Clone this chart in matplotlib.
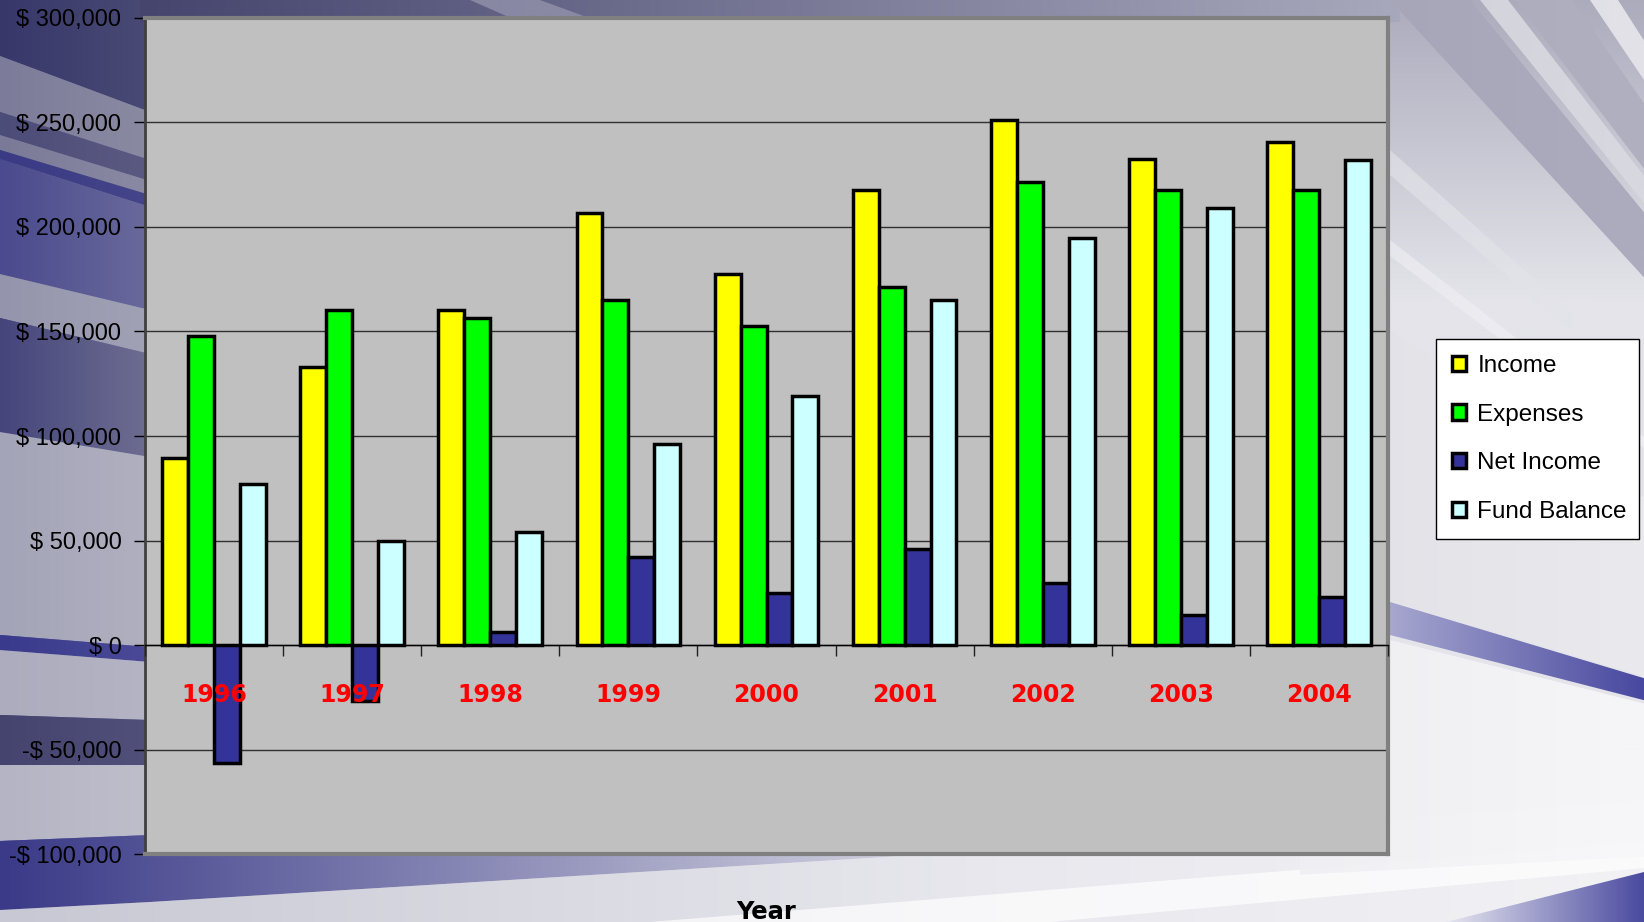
import numpy as np
import matplotlib
matplotlib.use("Agg")
import matplotlib.pyplot as plt
from matplotlib.patches import Polygon
from matplotlib.colors import to_rgb

# ---------------- data ----------------
years = ["1996", "1997", "1998", "1999", "2000", "2001", "2002", "2003", "2004"]
income = [89500, 133000, 160500, 206500, 177500, 217500, 251000, 232500, 240500]
expenses = [148000, 160500, 156500, 165000, 152500, 171500, 221500, 217500, 217500]
net_income = [-56500, -27000, 6000, 42000, 25000, 46000, 29500, 14500, 23000]
fund_balance = [77000, 50000, 54000, 96000, 119000, 165000, 194500, 209000, 232000]
series_names = ["Income", "Expenses", "Net Income", "Fund Balance"]
series_colors = ["#FFFF00", "#00FF00", "#333399", "#CCFFFF"]
y_ticks = [-100000, -50000, 0, 50000, 100000, 150000, 200000, 250000, 300000]

ARIAL = ["Liberation Sans", "DejaVu Sans"]
BOLDF = ["DejaVu Sans"]

W, H = 1644, 922
fig = plt.figure(figsize=(W / 100, H / 100), dpi=100)

# ---------------- decorative background ----------------
bg = fig.add_axes([0, 0, 1, 1], zorder=-10)
bg.axis("off")
gh, gw = 231, 411
yy, xx = np.mgrid[0:gh, 0:gw]
X = xx / (gw - 1) * W
Y = yy / (gh - 1) * H
s = np.clip(X / 950, 0, 1) ** 0.5
navy = np.array([58, 58, 128]) / 255
light = np.array([228, 228, 234]) / 255
base = navy * (1 - s)[..., None] + light * s[..., None]
g = np.clip((300 - Y) / 300, 0, 1) * 0.55
dark = np.array([125, 125, 152]) / 255
base = base * (1 - g[..., None]) + dark * g[..., None]
bg.imshow(base, extent=(0, W, H, 0), aspect="auto", interpolation="bilinear", zorder=0)


def band(verts, c0, c1, x0=None, x1=None, alpha=1.0, z=2):
    xs = [v[0] for v in verts]
    ys = [v[1] for v in verts]
    x0 = min(xs) if x0 is None else x0
    x1 = max(xs) if x1 is None else x1
    t = np.linspace(0, 1, 128)
    a = np.array(to_rgb(c0))
    b = np.array(to_rgb(c1))
    row = a[None, :] * (1 - t[:, None]) + b[None, :] * t[:, None]
    img = np.concatenate([row, np.full((128, 1), alpha)], axis=1)[None, :, :]
    poly = Polygon(verts, closed=True, fc="none", ec="none")
    bg.add_patch(poly)
    im = bg.imshow(img, extent=(x0, x1, max(ys), min(ys)), aspect="auto",
                   interpolation="bilinear", zorder=z)
    im.set_clip_path(poly)


C = (2150.0, 830.0)


def ray_pt(p, x):
    return (x, C[1] + (p[1] - C[1]) * (x - C[0]) / (p[0] - C[0]))


def ray_band(p1, p2, c0, c1, alpha=1.0):
    verts = [C, ray_pt(p1, 1300), ray_pt(p2, 1300)]
    band(verts, c0, c1, x0=1300, x1=W, alpha=alpha)


# left strip bands
band([(0, 0), (150, 0), (150, 112), (0, 56)], "#37376a", "#4a4a75")
band([(0, 56), (150, 112), (150, 160), (0, 112)], "#7c7c9a", "#8a8aa2")
band([(0, 112), (150, 160), (150, 181), (0, 135)], "#4c4c78", "#5a5a82")
band([(0, 135), (150, 181), (150, 195), (0, 150)], "#7a7a98", "#8a8aa4")
band([(0, 150), (150, 195), (150, 207), (0, 159)], "#3a3a85", "#45458a")
band([(0, 159), (150, 207), (150, 310), (0, 274)], "#4a4a8e", "#6a6a9c")
band([(0, 274), (150, 310), (150, 354), (0, 318)], "#9494ac", "#a2a2b6")
band([(0, 318), (150, 354), (150, 457), (0, 432)], "#45457c", "#6e6e92")
band([(0, 432), (150, 457), (150, 647), (0, 635)], "#a4a4b8", "#b0b0c0")
band([(0, 635), (150, 647), (150, 662), (0, 650)], "#3a3a8c", "#4a4a98")
band([(0, 650), (150, 662), (150, 720), (0, 715)], "#acacbe", "#b4b4c4")
band([(0, 715), (150, 720), (150, 765), (0, 765)], "#44446e", "#50507a")
band([(0, 765), (150, 765), (150, 835), (0, 841)], "#b4b4c4", "#bebecb")
# bottom bands
band([(0, 841), (150, 835), (1000, 830), (1000, 850), (150, 902), (0, 910)],
     "#3a3a88", "#e0e0e8", x0=0, x1=1000)
band([(0, 910), (150, 902), (1000, 850), (1000, 922), (0, 922)], "#c8c8d4", "#e8e8ee",
     x0=0, x1=1000)
band([(1000, 850), (1644, 800), (1644, 922), (1000, 922)], "#e8e8ee", "#f2f2f5")
band([(650, 922), (1644, 842), (1644, 868), (1050, 922)], "#ffffff", "#ffffff", alpha=0.7)
band([(1446, 922), (1644, 872), (1644, 922)], "#e6e6f0", "#4a4aa0")
# top strip above plot
band([(140, 0), (1400, 0), (1400, 22), (140, 22)], "#45456e", "#a8a8bc")
band([(470, 0), (540, 0), (600, 22), (520, 22)], "#9a9ab2", "#9a9ab2", alpha=0.7)
# right side streaks
ray_band((1390, 0), (1470, 0), "#a4a4b6", "#acacbe")
ray_band((1480, 0), (1508, 0), "#cfcfd8", "#d8d8e0")
ray_band((1515, 0), (1572, 0), "#a8a8ba", "#b0b0c0")
ray_band((1590, 0), (1618, 0), "#d8d8e0", "#e2e2e8")
ray_band((1390, 150), (1390, 175), "#dcdce4", "#e6e6ec", alpha=0.8)
ray_band((1390, 240), (1390, 256), "#e8e8ee", "#f2f2f6", alpha=0.8)
ray_band((1390, 330), (1390, 600), "#e0e0e6", "#eaeaee")
ray_band((1390, 602), (1390, 635), "#c8c8e0", "#4848a0")
ray_band((1390, 640), (1390, 870), "#f0f0f4", "#f8f8fa", alpha=0.9)
bg.set_xlim(0, W)
bg.set_ylim(H, 0)

# ---------------- chart ----------------
left, right, top, bottom = 145, 1388, 18, 854
ax = fig.add_axes([left / W, 1 - bottom / H, (right - left) / W, (bottom - top) / H])
ax.set_facecolor("#C0C0C0")

x = np.arange(len(years))
bw = 0.1875
all_series = [income, expenses, net_income, fund_balance]
handles = []
for i, (vals, name, col) in enumerate(zip(all_series, series_names, series_colors)):
    h = ax.bar(x + (i - 1.5) * bw, vals, bw, color=col, edgecolor="black",
               linewidth=2.5, label=name, zorder=3)
    handles.append(h)

ax.set_xlim(-0.5, len(years) - 0.5)
ax.set_ylim(y_ticks[0], y_ticks[-1])
ax.set_yticks(y_ticks)
ax.set_yticklabels([("-$ " if v < 0 else "$ ") + f"{abs(v):,}" for v in y_ticks],
                   fontfamily=ARIAL, fontsize=17)
ax.tick_params(axis="y", length=8, width=1, color="black", pad=9, direction="out")
ax.set_xticks([])
ax.yaxis.grid(True, color="#303030", linewidth=1)
ax.set_axisbelow(True)
for sp in ["top", "right", "bottom"]:
    ax.spines[sp].set_color("#808080")
    ax.spines[sp].set_linewidth(3)
ax.spines["left"].set_color("#404040")
ax.spines["left"].set_linewidth(2)

ax.set_xlabel("Year", fontfamily=BOLDF, fontweight="bold", fontsize=17.5, labelpad=33)

# category axis crossing at zero
zero_pos = (0 - y_ticks[0]) / (y_ticks[-1] - y_ticks[0])
sec = ax.secondary_xaxis(zero_pos)
sec.set_zorder(10)
sec.set_xticks(x, labels=years)
sec.set_xticks(np.arange(-0.5, len(years), 1.0), minor=True)
sec.tick_params(which="major", length=0, pad=27, labelcolor="red", labelsize=17)
sec.tick_params(which="minor", length=8, width=1, direction="out", color="#202020")
for lab in sec.get_xticklabels():
    lab.set_fontweight("bold")
    lab.set_fontfamily(BOLDF)
sec.spines["bottom"].set_color("black")
sec.spines["bottom"].set_linewidth(1)

leg = ax.legend(handles=handles, labels=series_names, loc="upper left",
                bbox_to_anchor=(1436 / W, 1 - 533 / H, 203 / W, 194 / H),
                bbox_transform=fig.transFigure, mode="expand",
                prop={"family": ARIAL, "size": 17.5}, frameon=True, fancybox=False,
                framealpha=1, facecolor="white", edgecolor="black",
                handlelength=0.6, handleheight=0.6, handletextpad=0.45,
                labelspacing=1.1, borderpad=0.65, borderaxespad=0)
leg.get_frame().set_linewidth(1)

fig.savefig("out.png", dpi=100)
